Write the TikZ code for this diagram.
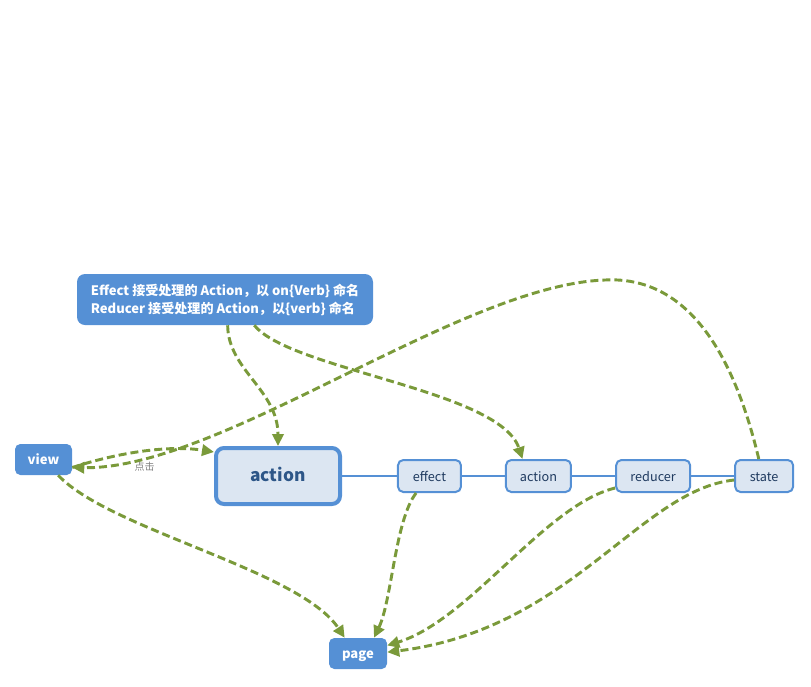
\documentclass[tikz,border=0pt]{standalone}
\usepackage{fontspec}
\setmainfont{Noto Sans CJK SC}
\usetikzlibrary{positioning,arrows.meta}
\definecolor{boxblue}{HTML}{5590D5}
\definecolor{lightblue}{HTML}{DCE6F2}
\definecolor{textblue}{HTML}{1F3A5F}
\definecolor{bigblue}{HTML}{2D5688}
\definecolor{olive}{HTML}{7A9A3A}
\tikzset{
  blk/.style={rectangle,rounded corners=4pt,fill=boxblue,text=white,
    font=\bfseries\fontsize{9.8}{13.5}\selectfont},
  mid/.style={text height=0.95em,text depth=0.15em},
  stage/.style={rectangle,rounded corners=4pt,draw=boxblue,line width=1.5pt,
    fill=lightblue,text=textblue,minimum height=24pt,inner sep=0pt,mid,
    font=\fontsize{9.5}{12}\selectfont},
  flow/.style={olive,line width=2.2pt,dash pattern=on 6pt off 3pt,
    -{Triangle[length=9pt,width=8.5pt]}}
}
\begin{document}
\begin{tikzpicture}[x=0.75pt,y=-0.75pt,on grid,auto]
   \useasboundingbox (0,0) rectangle (811,686);
   \node[blk,minimum width=222pt,minimum height=38.25pt,align=left,rounded corners=6pt] (note) at (225,299.5)
     {Effect 接受处理的 Action，以 on\{Verb\} 命名\\Reducer 接受处理的 Action，以\{verb\} 命名};
   \node[stage,line width=3pt,rounded corners=6pt,minimum width=93pt,minimum height=42pt,text=bigblue,
     font=\bfseries\fontsize{13}{15}\selectfont] (act) at (278,476) {action};
   \node[stage,minimum width=47.25pt] (eff) [right=113.6pt of act] {effect};
   \node[stage,minimum width=48.75pt] (act2) [right=81.75pt of eff] {action};
   \node[stage,minimum width=55.5pt] (red) [right=86pt of act2] {reducer};
   \node[stage,minimum width=43.5pt] (st) [right=83.25pt of red] {state};
   \node[blk,mid,minimum width=42.75pt,minimum height=23.25pt] (view) at (43.5,459.5) {view};
   \node[blk,mid,minimum width=43.5pt,minimum height=23.25pt] (page) at (358,653.5) {page};
   % thin links along the row
   \draw[boxblue,line width=0.8pt] (act) -- (eff) -- (act2) -- (red) -- (st);
   % dashed flows
   \draw[flow] ([xshift=2pt]note.south) .. controls (228,370) and (278,390) .. (act.north);
   \draw[flow] ([xshift=22pt]note.south) .. controls (290,370) and (500,390) .. ([xshift=-12pt]act2.north);
   \draw[flow] ([xshift=-4pt]st.north) .. controls (740,380) and (700,275) .. (605,280)
     .. controls (460,285) and (220,470) .. ([yshift=-6pt]view.east);
   \draw[flow] ([yshift=-6pt]view.east) .. controls (120,452) and (170,445) .. ([yshift=18pt]act.west)
     node[pos=0.5,below=4pt,text=gray,font=\fontsize{7.5}{8}\selectfont] {点击};
   \draw[flow] ([xshift=11pt]view.south) .. controls (110,530) and (300,570) .. ([xshift=-10pt]page.north);
   \draw[flow] ([xshift=-10pt]eff.south) .. controls (395,520) and (392,600) .. ([xshift=12pt]page.north);
   \draw[flow] ([yshift=-9pt]red.west) .. controls (545,505) and (470,620) .. ([yshift=6pt]page.east);
   \draw[flow] ([yshift=-3pt]st.west) .. controls (640,490) and (570,630) .. ([yshift=1pt]page.east);
\end{tikzpicture}
\end{document}
